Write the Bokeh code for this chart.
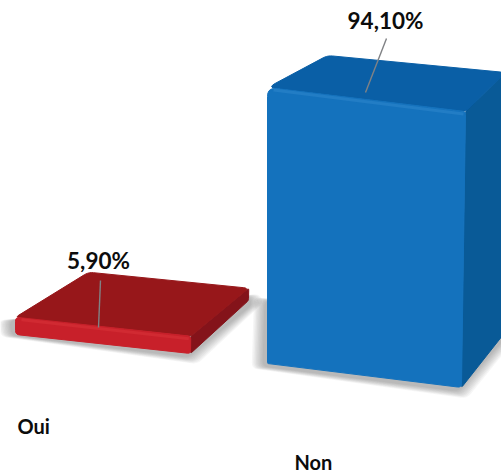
from bokeh.embed import file_html
from bokeh.models import Range1d
from bokeh.plotting import figure
from bokeh.resources import INLINE
import numpy as np

categories = ["Oui", "Non"]
values = [5.9, 94.1]
value_labels = ["5,90%", "94,10%"]

W, H = 501, 473
PX_PER_UNIT = 2.933
TEXT_FONT = "Lato"

# Per-bar projection: base corners of the front face, how far the top face and
# floor recede, corner radii (top-left, top-right, bottom-right, bottom-left),
# and the face colours. Text anchors are vertical centres.
BARS = {
    "Oui": dict(
        fl=(15, 334), fr=(190, 353),
        top_depth_l=(73, -45), top_depth_r=(58, -48), base_depth_r=(58, -53),
        radii=(4, 3, 3, 4),
        front="#c8202a", front_hi="#d9333a", top="#97171a", side="#84131a",
        shadow=[(9, 320), (11, 335), (188, 357), (252, 304), (248, 296)],
        cat_pos=(17, 425), label_pos=(98, 260),
        leader=((100, 280), (98, 327)),
    ),
    "Non": dict(
        fl=(267, 363), fr=(461, 387),
        top_depth_l=(60, -32), top_depth_r=(40, -39), base_depth_r=(45, -57),
        radii=(9, 3, 4, 1),
        front="#1472bd", front_hi="#2f87cd", top="#0a5fa6", side="#095a97",
        shadow=[(264, 300), (262, 366), (458, 391), (508, 334), (508, 320)],
        cat_pos=(294, 461), label_pos=(385, 20),
        leader=((386, 38), (365, 92)),
    ),
}


def rounded(points, radii, steps=6):
    """Polygon outline with each corner replaced by a quadratic curve."""
    pts = np.asarray(points, dtype=float)
    if np.isscalar(radii):
        radii = [radii] * len(pts)
    out = []
    n = len(pts)
    for i in range(n):
        prev, cur, nxt = pts[i - 1], pts[i], pts[(i + 1) % n]
        to_prev, to_next = prev - cur, nxt - cur
        a = cur + to_prev / np.linalg.norm(to_prev) * min(radii[i], np.linalg.norm(to_prev) / 2)
        b = cur + to_next / np.linalg.norm(to_next) * min(radii[i], np.linalg.norm(to_next) / 2)
        for t in np.linspace(0, 1, steps):
            out.append((1 - t) ** 2 * a + 2 * t * (1 - t) * cur + t ** 2 * b)
    out = np.array(out)
    return out[:, 0], out[:, 1]


def grown(points, amount):
    """Polygon pushed outward from its centre by a number of pixels."""
    pts = np.asarray(points, dtype=float)
    c = pts.mean(axis=0)
    d = pts - c
    return c + d + d / np.linalg.norm(d, axis=1, keepdims=True) * amount


p = figure(
    width=W, height=H, output_backend="svg", toolbar_location=None,
    x_range=Range1d(0, W), y_range=Range1d(H, 0),
    min_border=0, outline_line_color=None, background_fill_color="white",
    border_fill_color="white",
)
p.axis.visible = False
p.grid.visible = False

for name, val, text in zip(categories, values, value_labels):
    b = BARS[name]
    fl, fr = np.array(b["fl"], float), np.array(b["fr"], float)
    h = val * PX_PER_UNIT
    tl = fl - (0, h)
    tr = fr + (4 * val / 94.1, -h)
    back_l = tl + b["top_depth_l"]
    back_r = tr + b["top_depth_r"]
    floor_r = fr + b["base_depth_r"]

    # soft cast shadow under the bar
    for amount in np.linspace(11, 0, 9):
        xs, ys = rounded(grown(b["shadow"], amount), 6)
        p.patch(xs, ys, fill_color="#4a4f54", fill_alpha=0.05, line_color=None)

    # side, top and front faces
    xs, ys = rounded([tr, back_r, floor_r, fr], 2)
    p.patch(xs, ys, fill_color=b["side"], line_color=b["side"], line_width=1)
    xs, ys = rounded([tl, back_l, back_r, tr], (b["radii"][0], 5, 5, b["radii"][1]))
    p.patch(xs, ys, fill_color=b["top"], line_color=b["top"], line_width=1)
    xs, ys = rounded([tl, tr, fr, fl], b["radii"])
    p.patch(xs, ys, fill_color=b["front"], line_color=b["front"], line_width=1)

    # bevel highlight along the upper edge of the front
    inset = min(2.5, h * 0.15)
    p.line([tl[0] + 6, tr[0] - 2], [tl[1] + inset, tr[1] + inset],
           line_color=b["front_hi"], line_width=3, line_alpha=0.5)

    # leader line, value label and category label
    (x0, y0), (x1, y1) = b["leader"]
    p.line([x0, x1], [y0, y1], line_color="#808285", line_width=1.4)
    p.text([b["label_pos"][0]], [b["label_pos"][1]], text=[text],
           text_font={"value": TEXT_FONT}, text_font_style="bold",
           text_font_size="22.5px", text_color="#0c0c0c",
           text_align="center", text_baseline="middle")
    p.text([b["cat_pos"][0]], [b["cat_pos"][1]], text=[name],
           text_font={"value": TEXT_FONT}, text_font_style="bold",
           text_font_size="20px", text_color="#0c0c0c",
           text_align="left", text_baseline="middle")

open("out.html", "w").write(file_html(p, INLINE))
